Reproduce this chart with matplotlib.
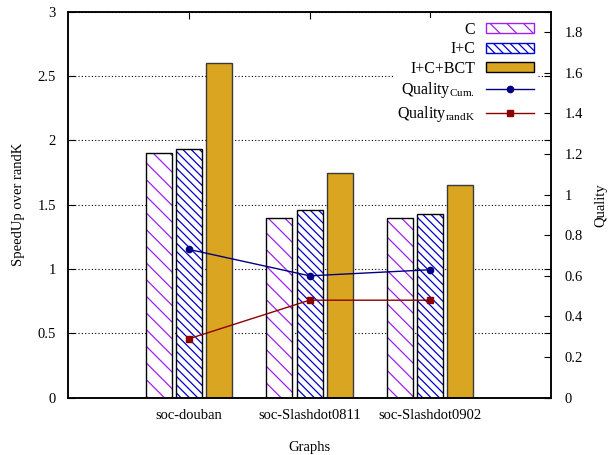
import numpy as np
import matplotlib
matplotlib.use("Agg")
import matplotlib.pyplot as plt
from matplotlib.patches import Patch
from matplotlib.lines import Line2D

# ==============================================================================
# Data
# ==============================================================================
graphs = ["soc-douban", "soc-Slashdot0811", "soc-Slashdot0902"]
speedup_c = [1.90, 1.40, 1.40]
speedup_ic = [1.93, 1.46, 1.43]
speedup_icbct = [2.60, 1.75, 1.65]
quality_cum = [0.73, 0.60, 0.63]
quality_randk = [0.29, 0.48, 0.48]

left_ticks = [0, 0.5, 1, 1.5, 2, 2.5, 3]
right_ticks = [0, 0.2, 0.4, 0.6, 0.8, 1, 1.2, 1.4, 1.6, 1.8]

plt.rcParams["font.family"] = ["Liberation Serif", "DejaVu Serif"]
plt.rcParams["mathtext.fontset"] = "custom"
plt.rcParams["mathtext.rm"] = "Liberation Serif"
plt.rcParams["font.size"] = 10
plt.rcParams["hatch.linewidth"] = 0.9

VIOLET = "#A020F0"
BLUE = "#0000CD"
GOLD = "#DAA520"
NAVY = "#000080"
DARKRED = "#8B0000"

fig = plt.figure(figsize=(6.1, 4.55), dpi=100)
ax = fig.add_axes([0.112, 0.126, 0.791, 0.848])
ax2 = ax.twinx()

x = np.arange(len(graphs))
w = 0.215
off = 0.25

# hatched bars: pattern first, then a black outline on top
ax.bar(x - off, speedup_c, w, color="white", edgecolor=VIOLET, hatch="\\\\", linewidth=0, zorder=2)
ax.bar(x - off, speedup_c, w, fill=False, edgecolor="black", linewidth=1.0, zorder=3)
ax.bar(x, speedup_ic, w, color="white", edgecolor=BLUE, hatch="\\\\\\\\", linewidth=0, zorder=2)
ax.bar(x, speedup_ic, w, fill=False, edgecolor="black", linewidth=1.0, zorder=3)
ax.bar(x + off, speedup_icbct, w, color=GOLD, edgecolor="#3a3a3a", linewidth=1.0, zorder=2)

ax.set_xlim(-1, 3)
ax.set_ylim(0, 3)
ax.set_yticks(left_ticks)
ax.set_yticklabels(["%g" % t for t in left_ticks])
ax.set_xticks(x)
ax.set_xticklabels(graphs)
ax.set_axisbelow(True)
ax.yaxis.grid(True, linestyle=(0, (1, 2)), color="black", linewidth=0.8)
ax.tick_params(axis="y", direction="in", length=5, pad=9, right=True, labelsize=10.5)
ax.tick_params(axis="x", direction="in", length=5, pad=8, top=True, labelsize=10.5)
ax.set_ylabel("SpeedUp over randK", fontsize=10.5, labelpad=9)
ax.set_xlabel("Graphs", fontsize=10.5, labelpad=14)

# quality lines on the right axis
ax2.plot(x, quality_cum, color=NAVY, linewidth=1.0, marker="o", markersize=4.5, zorder=5)
ax2.plot(x, quality_randk, color=DARKRED, linewidth=1.0, marker="s", markersize=4.5, zorder=5)
ax2.set_ylim(0, 1.9)
ax2.set_yticks(right_ticks)
ax2.set_yticklabels(["%g" % t for t in right_ticks])
ax2.tick_params(axis="y", direction="in", length=5, pad=10, labelsize=10.5)
ax2.set_ylabel("Quality", fontsize=10.5, labelpad=8)

for a in (ax, ax2):
    for s in a.spines.values():
        s.set_linewidth(1.1)

handles = [
    Patch(facecolor="white", edgecolor=VIOLET, hatch="\\\\", linewidth=1.0),
    Patch(facecolor="white", edgecolor=BLUE, hatch="\\\\\\\\", linewidth=1.0),
    Patch(facecolor=GOLD, edgecolor="black", linewidth=1.0),
    Line2D([], [], color=NAVY, linewidth=1.0, marker="o", markersize=4.5),
    Line2D([], [], color=DARKRED, linewidth=1.0, marker="s", markersize=4.5),
]
labels = ["C", "I+C", "I+C+BCT",
          r"$\mathrm{Quality}_{\mathrm{Cum.}}$", r"$\mathrm{Quality}_{\mathrm{randK}}$"]
leg = ax2.legend(handles, labels, loc="upper right", bbox_to_anchor=(0.99, 1.005),
                 markerfirst=False, frameon=True, fancybox=False, framealpha=1,
                 edgecolor="none", facecolor="white", fontsize=11.5,
                 handlelength=3.0, handleheight=0.55, labelspacing=0.22,
                 borderpad=0.25, handletextpad=0.7)
leg.set_zorder(10)

plt.savefig("out.png", dpi=100)
